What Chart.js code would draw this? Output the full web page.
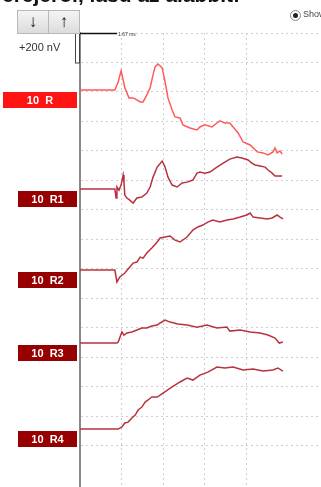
<!DOCTYPE html>
<html>
<head>
<meta charset="utf-8">
<script src="https://cdn.jsdelivr.net/npm/chart.js@4.4.1/dist/chart.umd.min.js"></script>
<style>
  body { margin: 0; background: #fff; overflow: hidden; font-family: Arial, "Liberation Sans", sans-serif; }
  #wrap { position: relative; width: 321px; height: 487px; overflow: hidden; }
  canvas { position: absolute; left: 0; top: 0; }
  .hdr { position: absolute; left: 2px; top: -17px; font-size: 21px; font-weight: bold; color: #111; white-space: nowrap; }
  .btn { position: absolute; top: 10px; width: 30px; height: 22px; background: linear-gradient(#f4f4f4, #dcdcdc);
         border: 1px solid #b8b8b8; font-size: 17px; font-weight: bold; text-align: center; line-height: 22px; color: #111; }
  .radio { position: absolute; left: 290px; top: 10px; width: 9px; height: 9px; border-radius: 50%; border: 1px solid #888; background: #fff; }
  .radio:after { content: ""; position: absolute; left: 2px; top: 2px; width: 5px; height: 5px; border-radius: 50%; background: #222; }
  .sho { position: absolute; left: 303px; top: 9px; font-size: 9px; color: #444; }
  .nv { position: absolute; left: 19px; top: 41px; font-size: 11px; color: #333; }
</style>
</head>
<body>
<div id="wrap">
  <canvas id="c" width="321" height="487"></canvas>
  <div class="hdr">erejéről, lásd az alábbit:</div>
  <div class="btn" style="left:17px">↓</div>
  <div class="btn" style="left:48px">↑</div>
  <div class="radio"></div>
  <div class="sho">Show</div>
  <div class="nv">+200 nV</div>
</div>
<script>
// time in ms (1 grid division), amplitude in nV (200 nV per division)
const traceNames = ['10 R', '10 R1', '10 R2', '10 R3', '10 R4'];
const baselines = [-386, -1058, -1607, -2102, -2685];

const tR = [0, 0.84, 0.92, 0.99, 1.04, 1.08, 1.18, 1.28, 1.37, 1.45, 1.52, 1.61, 1.69, 1.76, 1.81, 1.88, 1.98, 2.05, 2.12, 2.22, 2.29, 2.41, 2.48, 2.65, 2.82, 2.89, 3.01, 3.18, 3.30, 3.37, 3.49, 3.61, 3.69, 3.81, 3.93, 4.10, 4.27, 4.41, 4.53, 4.65, 4.70, 4.75, 4.82, 4.87];
const vR = [0, 0, 54, 129, 68, 14, -54, -54, -68, -81, -81, -34, 14, 102, 156, 176, 149, 54, -54, -136, -183, -190, -237, -258, -271, -251, -237, -251, -224, -210, -224, -224, -251, -292, -353, -373, -420, -427, -441, -420, -393, -427, -414, -434];

const tR1 = [0, 0.84, 0.87, 0.89, 0.94, 0.99, 1.04, 1.06, 1.08, 1.13, 1.20, 1.28, 1.37, 1.49, 1.61, 1.69, 1.76, 1.86, 1.98, 2.05, 2.12, 2.22, 2.34, 2.46, 2.58, 2.72, 2.82, 2.89, 3.01, 3.13, 3.30, 3.45, 3.61, 3.78, 3.90, 4.05, 4.14, 4.22, 4.34, 4.46, 4.53, 4.63, 4.70, 4.87];
const vR1 = [0, 0, -61, 14, -7, 27, 95, 41, -41, -61, -75, -95, -61, -54, -27, 14, 81, 149, 190, 149, 81, 27, 14, 41, 47, 61, 108, 115, 108, 115, 149, 176, 203, 217, 210, 197, 176, 163, 156, 149, 129, 108, 88, 88];

const tR2 = [0, 0.84, 0.89, 0.96, 1.08, 1.20, 1.28, 1.37, 1.45, 1.52, 1.61, 1.73, 1.86, 1.93, 2.05, 2.17, 2.29, 2.41, 2.58, 2.72, 2.84, 2.96, 3.08, 3.20, 3.37, 3.54, 3.69, 3.86, 4.02, 4.10, 4.17, 4.34, 4.51, 4.63, 4.75, 4.82, 4.89];
const vR2 = [0, 0, -81, -47, -20, 20, 47, 54, 88, 81, 115, 149, 190, 217, 224, 231, 203, 190, 224, 271, 292, 305, 325, 339, 325, 339, 346, 359, 373, 386, 359, 353, 346, 353, 373, 359, 346];

const tR3 = [0, 0.89, 0.92, 1.01, 1.06, 1.13, 1.25, 1.37, 1.49, 1.61, 1.73, 1.86, 1.93, 2.05, 2.17, 2.36, 2.58, 2.82, 3.06, 3.30, 3.54, 3.61, 3.86, 4.10, 4.34, 4.53, 4.70, 4.80, 4.89];
const vR3 = [0, 0, 7, 75, 54, 68, 75, 88, 102, 102, 115, 122, 136, 156, 142, 129, 122, 108, 122, 102, 108, 81, 88, 75, 68, 54, 34, 0, 7];

const tR4 = [0, 0.92, 1.01, 1.08, 1.16, 1.25, 1.33, 1.40, 1.49, 1.57, 1.64, 1.73, 1.86, 2.00, 2.22, 2.41, 2.58, 2.72, 2.89, 3.08, 3.30, 3.49, 3.69, 3.93, 4.17, 4.41, 4.65, 4.77, 4.89];
const vR4 = [0, 0, 14, 41, 47, 75, 95, 129, 149, 183, 197, 217, 217, 244, 285, 319, 346, 332, 366, 386, 420, 414, 420, 400, 407, 393, 400, 414, 393];

const times = [tR, tR1, tR2, tR3, tR4];
const values = [vR, vR1, vR2, vR3, vR4];
const lineColors = ['#ff5a5a', '#b8323e', '#b8323e', '#b8323e', '#b8323e'];
const boxColors = ['#ff1414', '#960000', '#960000', '#960000', '#960000'];
const boxLeft = [3, 18, 18, 18, 18];

const datasets = traceNames.map((name, i) => ({
    label: name,
    data: times[i].map((t, k) => ({ x: t, y: baselines[i] + values[i][k] })),
    borderColor: lineColors[i],
    borderWidth: 1.5,
    pointRadius: 0,
    tension: 0,
    clip: false
}));

// labels next to the traces + the scale bar
const extras = {
    id: 'extras',
    afterDraw(chart) {
        const c = chart.ctx;
        const ys = chart.scales.y, xs = chart.scales.x;
        const x0 = xs.getPixelForValue(0);
        c.save();
        traceNames.forEach((name, i) => {
            const yb = Math.round(ys.getPixelForValue(baselines[i]));
            c.fillStyle = boxColors[i];
            c.fillRect(boxLeft[i], yb + 2, 77 - boxLeft[i], 16);
            c.fillStyle = '#fff';
            c.font = 'bold 11px Arial';
            c.textAlign = 'center';
            c.textBaseline = 'middle';
            c.fillText(name.replace(' ', '  '), (boxLeft[i] + 77) / 2, yb + 10.5);
        });
        // amplitude bracket
        const top = ys.getPixelForValue(0), y200 = ys.getPixelForValue(-200);
        c.strokeStyle = '#444';
        c.lineWidth = 1;
        c.fillStyle = '#fff';
        c.fillRect(75.5, top + 0.5, 4, y200 - top);
        c.strokeRect(75.5, top + 0.5, 4, y200 - top);
        // time bar
        c.strokeStyle = '#111';
        c.lineWidth = 1.5;
        c.beginPath();
        c.moveTo(x0 - 1, top + 0.5);
        c.lineTo(117, top + 0.5);
        c.stroke();
        c.fillStyle = '#333';
        c.font = '5px Arial';
        c.textAlign = 'left';
        c.textBaseline = 'middle';
        c.fillText('1.67 ms', 118, top + 2);
        c.restore();
    }
};

const ctx = document.getElementById('c').getContext('2d');
new Chart(ctx, {
    type: 'line',
    data: { datasets: datasets },
    plugins: [extras],
    options: {
        responsive: false,
        animation: false,
        layout: { padding: { left: 80, top: 33, right: 0, bottom: 0 } },
        plugins: { legend: { display: false }, tooltip: { enabled: false } },
        scales: {
            x: {
                type: 'linear',
                min: 0,
                max: 5.807,
                ticks: { display: false, stepSize: 1 },
                grid: {
                    drawTicks: false,
                    color: ctx => Number.isInteger(ctx.tick.value) && ctx.tick.value > 0 ? '#cfcfcf' : 'transparent'
                },
                border: { display: false, dash: [2, 3] }
            },
            y: {
                min: -3078,
                max: 0,
                ticks: { display: false, stepSize: 200 },
                grid: {
                    drawTicks: false,
                    color: ctx => ctx.tick.value % 200 === 0 ? '#cfcfcf' : 'transparent'
                },
                border: { display: true, color: '#8a8a8a', width: 2, dash: [2, 3] }
            }
        }
    }
});
</script>
</body>
</html>
